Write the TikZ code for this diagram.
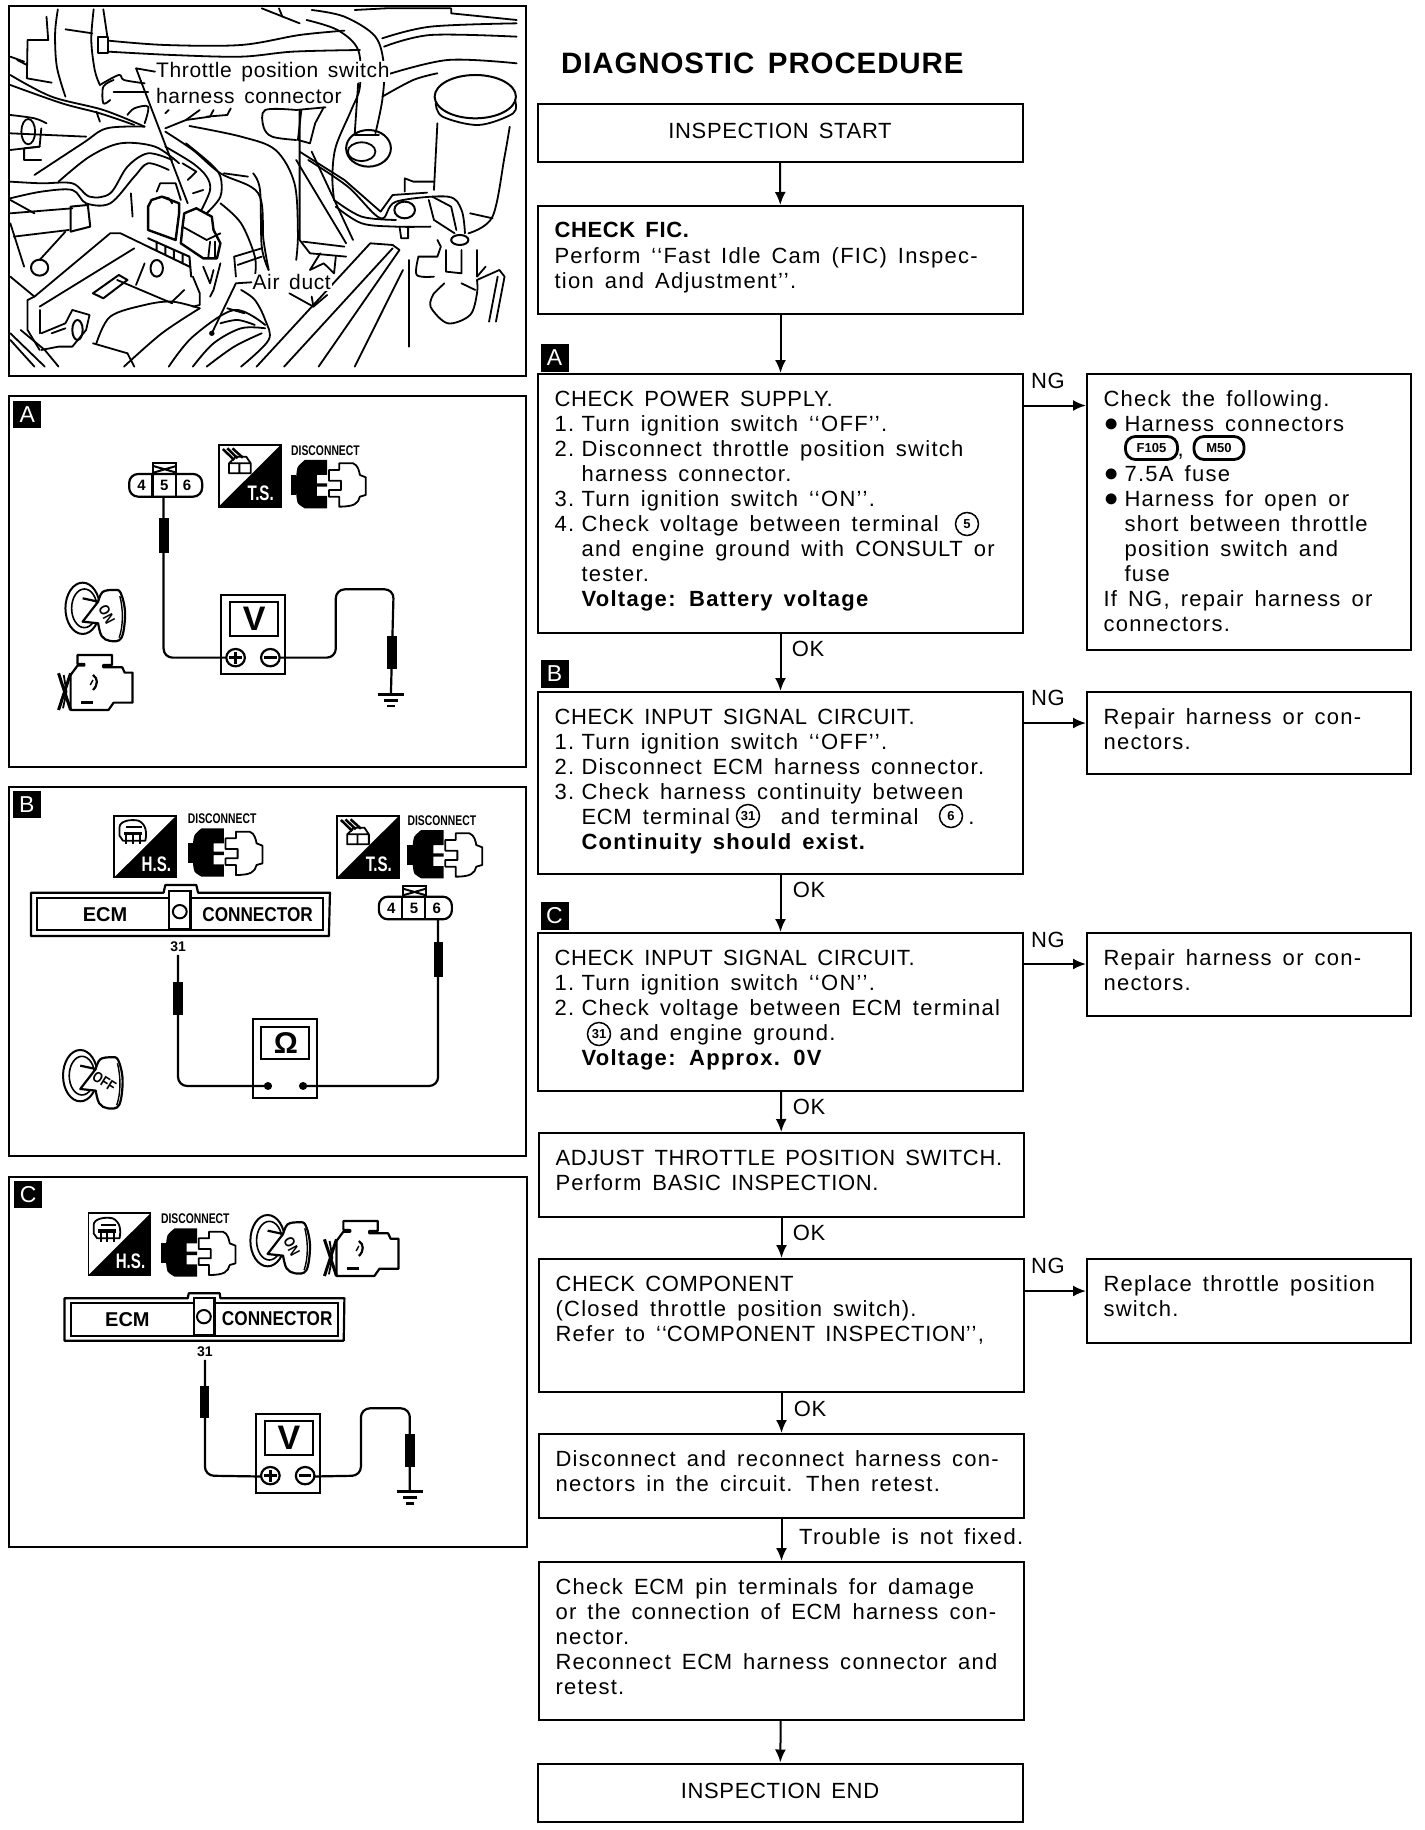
\documentclass[tikz,border=0pt]{standalone}
\usepackage{fontspec}
\setmainfont[LetterSpace=5.8,WordSpace=1.5]{Liberation Sans}
\newfontfamily\capf[LetterSpace=3,WordSpace=1.5]{Liberation Sans}
\newfontfamily\plainf{Liberation Sans}
\usetikzlibrary{arrows.meta,calc}
\newcommand\ar[1]{\draw[art] plot[smooth,tension=.55] coordinates {#1};}
\newcommand\pl[1]{\draw[art] plot coordinates {#1};}
\newcommand\fbx[6]{\node[flowbox] (#1) at (#2,#3) {\parbox[t][#5pt][t]{#4pt}{\fontsize{22}{25}\selectfont\raggedright\leftskip=16.5pt\rightskip=0pt plus 1fil\parindent=0pt\vspace*{14.5pt}\strut #6}};}
\newcommand\num[1]{\makebox[27pt][l]{#1}}
\newcommand\hng{\hspace*{27pt}}
\newcommand\bul{\makebox[21pt][l]{\scalebox{1.15}{●}}}
\newcommand\hb{\hspace*{21pt}}
\newcommand\qo{‘\kern1pt‘}
\newcommand\qc{’\kern1pt’}
\tikzset{
 keyangle/.initial=-62,
 flowbox/.style={draw,line width=2pt,inner sep=0pt,anchor=north west},
 flowend/.style={draw,line width=2pt,inner sep=0pt,minimum width=485pt,minimum height=58pt,font=\capf\fontsize{22}{25}\selectfont},
 conn/.style={line width=2pt,-{Latex[length=13pt,width=11pt]}},
 lab/.style={inner sep=0pt,font=\capf\fontsize{22}{25}\selectfont},
 tag/.style={fill=black,text=white,inner sep=0pt,minimum width=28pt,minimum height=28pt,font=\plainf\fontsize{23}{23}\selectfont},
 circ/.style={draw,circle,line width=1.5pt,inner sep=0pt,minimum size=23pt,font=\plainf\bfseries\fontsize{13}{13}\selectfont},
 hconn/.style={draw,rounded corners=10pt,line width=2.8pt,inner sep=0pt,minimum height=23pt,font=\plainf\bfseries\fontsize{13}{13}\selectfont},
 panel/.style={draw,line width=2pt},
 art/.style={line width=1.8pt,line join=round,line cap=round},
 wire/.style={line width=2.2pt,rounded corners=9pt},
 sm/.style={inner sep=0pt,font=\plainf\bfseries\fontsize{14}{14}\selectfont},
 pics/disc/.style={code={
  \node[sm] (-t) at (100,-28) {\scalebox{.74}[1]{DISCONNECT}};
  \fill (15,45)--(15,105)--(0,105)--(0,45)--cycle;
  \fill plot[smooth,tension=.4] coordinates {(40,0)(20,20)(15,50)(15,100)(20,130)(40,145)} -- (105,145)--(105,108)--(75,108)--(75,80)--(105,80)--(105,70)--(75,70)--(75,45)--(105,45)--(105,0)--cycle;
  \draw[line width=1.8pt,line join=round] (140,10)--(180,10) .. controls (195,15) and (198,35) .. (200,45)--(217,52)--(217,105)--(200,110) .. controls (195,130) and (185,140) .. (140,140)--(140,110)--(110,110)--(110,90)--(145,90)--(145,62)--(110,62)--(110,30)--(140,30)--cycle;
 }},
 pics/tsq/.style={code={
  \draw[line width=1.8pt] (0,0) rectangle (180,185);
  \fill (180,0)--(180,185)--(0,185)--cycle;
  \node[inner sep=0pt,text=white,font=\plainf\bfseries\fontsize{21}{21}\selectfont] (-t) at (122,145) {\scalebox{.72}[1]{#1}};
 }},
 pics/boxgly/.style={code={
  \draw[line width=1.8pt,line join=round] (30,55)--(30,85)--(93,85)--(93,55)--cycle (60,55)--(60,85) (30,55)--(50,35)--(80,35)--(93,55);
  \draw[line width=2.5pt] (12,12)--(45,45) (25,10)--(55,40) (40,10)--(70,38);
 }},
 pics/hsgly/.style={code={
  \draw[line width=1.8pt,line join=round] (15,35) .. controls (15,15) and (50,10) .. (70,15) .. controls (92,25) and (95,50) .. (90,75)--(25,75)--(15,60)--cycle;
  \fill (28,48) rectangle (80,58);
  \draw[line width=2pt] (35,35)--(80,35) (35,58)--(35,85) (55,58)--(55,85) (75,58)--(75,85);
 }},
 pics/keyic/.style={code={
  \draw[line width=2pt] (50,77) ellipse [x radius=50,y radius=77];
  \draw[line width=1.6pt] (55,77) ellipse [x radius=37,y radius=58];
  \draw[line width=2.2pt,line join=round,fill=white] (50,47)--(95,57) plot[smooth,tension=.6] coordinates {(95,57)(108,28)(140,22)(160,30)(173,90)(163,165)(130,175)(105,160)(95,122)} --(50,117)--cycle;
  \draw[line width=1.4pt] (158,40) .. controls (168,80) and (168,130) .. (156,165);
  \node[inner sep=0pt,rotate=\pgfkeysvalueof{/tikz/keyangle},font=\plainf\bfseries\fontsize{15}{15}\selectfont] (-t) at (120,95) {\scalebox{.82}[1]{#1}};
 }},
 pics/engic/.style={code={
  \draw[line width=2.2pt,line join=round] (60,0)--(160,0)--(160,30)--(135,30)--(135,37)--(190,37)--(197,53)--(220,53)--(220,143)--(165,143)--(150,165)--(40,165)--(40,60)--(60,32)--(80,32)--(80,27)--(60,27)--cycle;
  \draw[line width=3pt] (5,55)--(40,165) (40,55)--(5,165) ;
  \draw[line width=1.8pt] (20,60)--(28,110)--(18,160);
  \fill (70,137) rectangle (105,146);
  \draw[line width=2.2pt] (105,60) .. controls (120,70) and (120,90) .. (105,105);
  \draw[line width=1.4pt] (105,75)--(97,90);
 }},
 pics/meter/.style={code={
  \draw[line width=2.2pt,fill=white] (0,0) rectangle (186,237);
  \draw[line width=2.2pt] (26,22) rectangle (166,122);
  \node[inner sep=0pt,font=\plainf\bfseries\fontsize{#1}{#1}\selectfont] (-t) at (96,70) {V};
  \coordinate (-p) at (42,188);
  \coordinate (-m) at (143,188);
 }},
 pics/pmterm/.style={code={
  \draw[line width=2.2pt,fill=white] (42,188) circle [x radius=27,y radius=26];
  \draw[line width=2.2pt,fill=white] (143,188) circle [x radius=27,y radius=26];
  \draw[line width=2.4pt] (24,188)--(60,188) (42,170)--(42,206) (125,188)--(161,188);
 }},
 pics/c456/.style={code={
  \draw[line width=2.2pt] (70,0)--(70,-32)--(137,-32)--(137,0);
  \draw[line width=2pt] (70,-24)--(137,-4) (70,-4)--(137,-24);
  \draw[line width=2.2pt,rounded corners=9pt] (0,0) rectangle (212,68);
  \draw[line width=2.2pt] (68,0)--(68,68) (135,0)--(135,68);
  \node[sm,font=\plainf\bfseries\fontsize{15}{15}\selectfont] (-a) at (36,34) {4};
  \node[sm,font=\plainf\bfseries\fontsize{15}{15}\selectfont] (-b) at (102,34) {5};
  \node[sm,font=\plainf\bfseries\fontsize{15}{15}\selectfont] (-c) at (168,34) {6};
  \coordinate (-t5) at (100,68);
  \coordinate (-t6) at (172,68);
 }},
 pics/gnd/.style={code={
  \coordinate (-t) at (0,0);
  \draw[line width=2.4pt] (-38,0)--(38,0) (-20,18)--(20,18) (-11,35)--(11,35);
 }},
}
\begin{document}
\begin{tikzpicture}[x=1pt,y=-1pt]
\useasboundingbox (0,0) rectangle (1424,1830);
\fill[white] (0,0) rectangle (1424,1830);

% ---- flow chart
\node[inner sep=0pt,anchor=west,font=\capf\fontsize{29.5}{32}\selectfont\bfseries] (title) at (561,63) {DIAGNOSTIC PROCEDURE};
\node[flowend] (start) at (780,133) {\raisebox{0pt}[15.4pt][4.4pt]{INSPECTION START}};
\fbx{fic}{537}{205}{485}{108}{\textbf{{\capf CHECK FIC.}}\\Perform \qo Fast Idle Cam (FIC) Inspec-\\tion and Adjustment\qc.}
\node[tag] (ta) at (554.5,357.5) {A};
\fbx{a}{537}{373}{485}{259}{{\capf CHECK POWER SUPPLY.}\\\num{1.}Turn ignition switch \qo OFF\qc.\\\num{2.}Disconnect throttle position switch\\\hng harness connector.\\\num{3.}Turn ignition switch \qo ON\qc.\\\num{4.}Check voltage between terminal\\\hng and engine ground with {\capf CONSULT} or\\\hng tester.\\\hng\textbf{Voltage: Battery voltage}}
\node[circ] (c5) at (967,524) {5};
\fbx{n1}{1086}{373}{324}{276}{Check the following.\\\bul Harness connectors\\\hb\hspace*{53pt},\\\bul 7.5A fuse\\\bul Harness for open or\\\hb short between throttle\\\hb position switch and\\\hb fuse\\If NG, repair harness or\\connectors.}
\node[hconn,minimum width=52pt] (f105) at (1151.5,448) {F105};
\node[hconn,minimum width=50pt] (m50) at (1219,448) {M50};
\node[tag] (tb) at (554.5,674) {B};
\fbx{b}{537}{691}{485}{182}{{\capf CHECK INPUT SIGNAL CIRCUIT.}\\\num{1.}Turn ignition switch \qo OFF\qc.\\\num{2.}Disconnect {\capf ECM} harness connector.\\\num{3.}Check harness continuity between\\\hng{\capf ECM} terminal\hspace*{51pt}and terminal\hspace*{50pt}.\\\hng\textbf{Continuity should exist.}}
\node[circ] (c31a) at (748,816) {31};
\node[circ] (c6) at (951,816) {6};
\fbx{n2}{1086}{691}{324}{82}{Repair harness or con-\\nectors.}
\node[tag] (tc) at (554.5,916) {C};
\fbx{c}{537}{932}{485}{158}{{\capf CHECK INPUT SIGNAL CIRCUIT.}\\\num{1.}Turn ignition switch \qo ON\qc.\\\num{2.}Check voltage between {\capf ECM} terminal\\\hng\hspace*{38pt}and engine ground.\\\hng\textbf{Voltage: Approx. 0V}}
\node[circ] (c31b) at (599,1034) {31};
\fbx{n3}{1086}{932}{324}{83}{Repair harness or con-\\nectors.}
\fbx{adj}{538}{1132}{485}{84}{{\capf ADJUST THROTTLE POSITION SWITCH.}\\Perform {\capf BASIC INSPECTION.}}
\fbx{comp}{538}{1258}{485}{133}{{\capf CHECK COMPONENT}\\(Closed throttle position switch).\\Refer to \qo{\capf COMPONENT INSPECTION}\qc,}
\fbx{n4}{1086}{1258}{324}{84}{Replace throttle position\\switch.}
\fbx{rec}{538}{1433}{485}{84}{Disconnect and reconnect harness con-\\nectors in the circuit. Then retest.}
\fbx{ecm}{538}{1561}{485}{158}{Check {\capf ECM} pin terminals for damage\\or the connection of {\capf ECM} harness con-\\nector.\\Reconnect {\capf ECM} harness connector and\\retest.}
\node[flowend] (stop) at (780,1792.5) {\raisebox{0pt}[15.4pt][4.4pt]{INSPECTION END}};

\draw[conn] (start) -- (fic);
\draw[conn] (fic) -- (a);
\draw[conn] (a) -- (b);
\draw[conn] (b) -- (c);
\draw[conn] (c) -- (adj);
\draw[conn] (adj) -- (comp);
\draw[conn] (comp) -- (rec);
\draw[conn] (rec) -- (ecm);
\draw[conn] (ecm) -- (stop);
\draw[conn] ([yshift=-32.5pt]a.north east) -- ([yshift=-32.5pt]n1.north west);
\draw[conn] ([yshift=-32pt]b.north east) -- ([yshift=-32pt]n2.north west);
\draw[conn] ([yshift=-32pt]c.north east) -- ([yshift=-32pt]n3.north west);
\draw[conn] ([yshift=-33pt]comp.north east) -- ([yshift=-33pt]n4.north west);
\node[lab] (ng1) at (1048,381) {NG};
\node[lab] (ng2) at (1048,698) {NG};
\node[lab] (ng3) at (1048,940) {NG};
\node[lab] (ng4) at (1048,1266) {NG};
\node[lab] (ok1) at (808,649) {OK};
\node[lab] (ok2) at (809,890) {OK};
\node[lab] (ok3) at (809,1107) {OK};
\node[lab] (ok4) at (809,1232.5) {OK};
\node[lab] (ok5) at (810,1409) {OK};
\node[inner sep=0pt,anchor=west,font=\fontsize{22}{25}\selectfont] (tr) at (799,1537) {Trouble is not fixed.};

% ---- engine bay picture
\begin{scope}[shift={(0,0)},x=0.3444pt,y=-0.3333pt]
\begin{scope}
\clip (25,18) rectangle (1528,1128);
\ar{(168,28)(160,100)(165,200)(190,290)}
\ar{(272,28)(265,120)(275,210)(290,255)}
\pl{(135,50)(140,120)(80,120)(78,235)(150,248)}
\pl{(190,88)(268,100)}
\pl{(300,28)(312,112)}
\draw[art,line width=2pt] (285,110) rectangle (315,160);
\ar{(315,122)(480,135)(700,135)(870,105)(1000,92)}
\ar{(315,155)(500,165)(700,170)(850,155)(1045,150)}
\pl{(760,25)(870,70)}
\pl{(810,25)(820,50)}
\pl{(1030,30)(1120,25)(1310,25)(1310,40)(1500,60)}
\pl{(30,170)(70,185)}
\pl{(50,180)(78,195)}
\ar{(30,225)(150,290)(300,330)(420,380)}
\ar{(30,255)(180,310)(290,340)(390,375)}
\ar{(290,255)(345,225)(360,240)(420,250)}
\ar{(330,240)(300,260)(300,310)(320,300)}
\pl{(330,275)(430,275)}
\pl{(280,335)(290,365)}
\ar{(370,345)(390,325)(430,320)(420,370)}
\pl{(480,340)(490,330)}
\pl{(480,385)(540,360)(580,330)}
\pl{(540,360)(610,350)(620,330)}
\pl{(600,350)(660,345)(670,325)}
\ar{(550,378)(700,410)(800,450)(855,550)(865,700)(860,780)}
\ar{(480,395)(560,450)(640,520)(750,580)(765,720)(780,810)}
\ar{(30,345)(100,355)(135,370)}
\draw[art] (82,395) ellipse [x radius=20,y radius=38];
\pl{(120,385)(115,440)(70,445)(70,480)(120,480)}
\pl{(30,400)(250,410)}
\pl{(30,450)(115,440)}
\ar{(100,525)(240,430)(310,385)(420,380)}
\ar{(170,545)(260,470)(350,430)(450,440)(520,490)}
\ar{(30,545)(120,550)(210,550)(260,590)(320,580)(370,500)(430,460)(500,480)}
\ar{(30,595)(120,575)(210,570)(250,610)(320,610)(390,530)(430,490)(490,510)}
\pl{(30,640)(210,625)}
\pl{(30,600)(100,640)}
\draw[art,line width=2pt] (205,620)--(255,615)--(262,680)--(205,695)--cycle;
\pl{(30,670)(70,800)}
\pl{(40,710)(200,690)}
\draw[art,line width=2pt] (115,803) circle [x radius=25,y radius=24];
\pl{(115,780)(190,695)}
\pl{(30,830)(100,890)}
\pl{(80,900)(100,890)(320,700)(350,700)(430,740)}
\pl{(80,900)(80,990)(115,1050)}
\pl{(115,930)(115,1000)}
\pl{(115,920)(390,745)}
\draw[art,line width=2pt] (270,880)--(345,825)--(370,840)--(300,895)--cycle;
\pl{(380,580)(385,650)}
\pl{(340,840)(500,910)}
\draw[art,line width=2.4pt] (440,600)--(470,590)--(520,610)--(520,640)--(510,720)--(430,690)--(430,620)--cycle;
\pl{(455,575)(465,550)(510,550)(525,600)}
\pl{(470,590)(490,595)(500,610)}
\draw[art,line width=2.4pt] (535,640)--(570,625)--(615,650)--(620,690)--(640,730)--(630,775)--(590,775)--(525,730)--(530,680)--cycle;
\pl{(530,680)(600,720)(640,700)}
\pl{(610,725)(605,770)}
\pl{(625,725)(625,775)}
\draw[art,line width=2pt] (430,715)--(550,770)--(555,830) (430,740)--(550,800) (455,725)--(455,750) (480,740)--(480,762) (505,750)--(505,775) (530,762)--(530,790);
\ar{(600,640)(640,590)(640,530)(610,490)(540,430)}
\ar{(585,630)(610,570)(600,530)(560,490)(480,440)}
\pl{(560,580)(590,570)}
\pl{(530,490)(570,515)(545,540)}
\ar{(640,610)(700,670)(740,770)(740,830)}
\pl{(680,770)(760,745)}
\pl{(690,795)(760,770)}
\pl{(680,770)(685,830)}
\ar{(735,520)(755,570)(760,740)(780,810)}
\pl{(650,520)(720,530)}
\draw[art,line width=2pt] (455,805) ellipse [x radius=18,y radius=25];
\pl{(560,830)(580,880)(580,915)(560,920)}
\pl{(590,800)(610,850)(620,810)}
\pl{(640,790)(620,870)(610,890)}
\ar{(280,1030)(320,950)(420,915)(500,905)(580,925)}
\pl{(60,990)(130,1050)(170,1100)}
\pl{(30,1000)(130,1100)}
\pl{(30,1020)(100,1100)}
\pl{(120,1000)(190,970)(210,930)(260,945)(250,990)(210,1040)(170,1040)(120,1050)}
\draw[art,line width=2pt] (225,990) ellipse [x radius=15,y radius=30];
\pl{(150,1000)(190,985)}
\pl{(270,1030)(370,1060)(390,1100)}
\ar{(360,1100)(470,1000)(580,925)}
\ar{(490,1100)(560,1010)(680,930)(770,975)}
\ar{(560,1100)(620,1030)(700,985)(770,985)}
\ar{(600,1100)(680,1040)(760,1000)}
\ar{(700,1100)(780,1020)(770,960)(740,900)(700,870)}
\ar{(640,970)(690,960)(740,975)}
\pl{(660,925)(710,940)}
\pl{(500,905)(535,870)}
\pl{(395,855)(420,790)}
\pl{(745,1100)(1075,730)(1140,735)(1160,750)(925,1100)}
\pl{(825,1100)(1140,745)}
\pl{(1030,1100)(1170,810)}
\pl{(1188,780)(1188,1040)}
\pl{(840,880)(910,920)(950,885)}
\pl{(905,890)(910,920)}
\pl{(870,330)(870,720)(900,760)(1005,770)}
\pl{(860,330)(945,322)}
\pl{(875,330)(865,420)(900,430)(915,370)(940,322)}
\ar{(860,330)(770,330)(765,380)(790,410)(860,420)}
\pl{(905,455)(1025,720)}
\pl{(860,480)(1005,730)}
\pl{(880,725)(1000,740)}
\pl{(930,760)(900,810)(940,790)(970,820)(975,770)}
\ar{(890,60)(980,90)(1040,150)(1045,260)(1020,330)(975,440)(965,530)(970,600)}
\ar{(905,30)(1000,50)(1090,110)(1115,200)(1110,300)(1090,400)}
\pl{(1040,250)(1030,400)}
\draw[art,line width=2pt] (1070,445) ellipse [x radius=65,y radius=55];
\draw[art] (1050,455) ellipse [x radius=40,y radius=28];
\pl{(1030,405)(1100,405)}
\ar{(1110,115)(1250,80)(1500,70)}
\ar{(1115,140)(1250,105)(1500,110)}
\ar{(1120,225)(1300,180)(1500,190)}
\ar{(1110,290)(1200,240)(1270,220)}
\draw[art,line width=2pt] (1380,290) ellipse [x radius=118,y radius=65];
\ar{(1265,310)(1285,350)(1390,375)(1490,340)(1495,300)}
\pl{(1270,370)(1260,570)}
\ar{(1480,380)(1465,470)(1430,650)(1360,700)}
\pl{(1365,640)(1430,655)}
\pl{(870,455)(1000,540)(1105,635)(1140,585)(1240,578)}
\ar{(895,480)(1010,560)(1105,655)(1150,605)(1300,590)(1340,630)(1350,700)}
\ar{(970,600)(1050,650)(1150,660)}
\ar{(975,620)(1050,670)(1150,680)(1250,680)}
\pl{(1175,575)(1175,535)(1200,545)(1260,545)}
\draw[art,line width=2pt] (1175,630) ellipse [x radius=30,y radius=25];
\pl{(1160,680)(1165,715)(1185,715)(1185,680)}
\pl{(1245,600)(1260,660)(1320,700)}
\pl{(1255,590)(1310,620)(1325,690)}
\draw[art,line width=2pt] (1335,720) ellipse [x radius=25,y radius=15];
\ar{(1215,770)(1210,825)(1260,830)}
\ar{(1260,880)(1250,920)(1300,970)(1365,945)(1385,880)(1385,840)}
\pl{(1215,770)(1270,770)(1280,740)(1270,720)}
\pl{(1385,840)(1450,810)(1465,830)(1440,965)}
\pl{(1295,750)(1295,815)(1340,820)(1340,750)}
\pl{(1385,750)(1385,830)(1410,800)}
\pl{(1420,965)(1445,830)}
\pl{(1290,850)(1260,880)}
\pl{(1340,850)(1380,870)}
\end{scope}
\coordinate (dot) at (615,1000);
\fill (dot) circle [radius=8];
\node[inner sep=1pt,fill=white,anchor=west,font=\capf\fontsize{21}{24}\selectfont] (tp1) at (450,215) {Throttle position switch};
\node[inner sep=1pt,fill=white,anchor=west,font=\capf\fontsize{21}{24}\selectfont] (tp2) at (450,288) {harness connector};
\node[inner sep=1pt,fill=white,anchor=west,font=\capf\fontsize{21}{24}\selectfont] (tp3) at (730,847) {Air duct};
\coordinate (leadA) at (545,610);
\draw[art] (tp1.west) -- (395,205) -- (leadA);
\draw[art] (tp3.west) -- (685,850) -- (dot);
\draw[panel] (25,18) rectangle (1528,1128);
\end{scope}

% ---- panel A
\begin{scope}[shift={(0,390)},x=0.3444pt,y=-0.3333pt]
\draw[panel] (25,18) rectangle (1528,1130);
\node[tag,minimum width=28pt,minimum height=27pt] (pa) at (79,74) {A};
\pic (kA) at (190,578) {keyic=ON};
\pic (eA) at (165,795) {engic};
\pic (tsA) at (635,165) {tsq=T.S.};
\pic at (635,165) {boxgly};
\pic (dA) at (845,210) {disc};
\pic (cA) at (375,252) {c456};
\pic (mA) at (642,615) {meter=34};
\pic (gA) at (1135,913) {gnd};
\draw[wire] (cA-t5) -- (475,803) -- (mA-p);
\draw[wire] (mA-m) -- (975,803) -- (975,598) -- (1143,598) -- (gA-t);
\fill (462,385) rectangle (490,488);
\fill (1123,738) rectangle (1152,838);
\pic at (642,615) {pmterm};
\end{scope}

% ---- panel B
\begin{scope}[shift={(0,780)},x=0.3444pt,y=-0.3333pt,keyangle=-32]
\draw[panel] (25,20) rectangle (1528,1128);
\node[tag,minimum width=28pt,minimum height=27pt] (pb) at (78,74) {B};
\pic (tsB) at (332,107) {tsq=H.S.};
\pic at (332,107) {hsgly};
\pic (dB) at (545,145) {disc};
\pic (tsC) at (978,108) {tsq=T.S.};
\pic at (978,108) {boxgly};
\pic (dC) at (1183,150) {disc};
\draw[line width=2.2pt,line join=round] (90,338)--(475,338)--(480,315)--(570,315)--(575,338)--(958,338)--(955,468)--(90,468)--cycle;
\draw[line width=2pt] (108,355) rectangle (938,450);
\draw[line width=2.2pt,fill=white] (490,332) rectangle (553,448);
\draw[line width=2pt] (522,395) circle [radius=20];
\node[inner sep=0pt,font=\plainf\bfseries\fontsize{20}{20}\selectfont] (ecmB) at (305,405) {ECM};
\node[inner sep=0pt,font=\plainf\bfseries\fontsize{20}{20}\selectfont] (conB) at (748,405) {\scalebox{.86}[1]{CONNECTOR}};
\node[sm] (n31B) at (517,500) {31};
\pic (cB) at (1100,350) {c456};
\pic (kB) at (183,810) {keyic=OFF};
\begin{scope}[shift={(735,718)}]
\draw[line width=2.2pt,fill=white] (0,0) rectangle (186,237);
\draw[line width=2.2pt] (23,22) rectangle (163,120);
\node[inner sep=0pt,font=\plainf\bfseries\fontsize{30}{30}\selectfont] (omg) at (95,72) {Ω};
\coordinate (mBa) at (43,200);
\coordinate (mBb) at (145,200);
\end{scope}
\coordinate (w31) at (517,525);
\draw[wire] (w31) -- (517,918) -- (mBa);
\draw[wire] (cB-t6) -- (1272,918) -- (mBb);
\fill (503,605) rectangle (531,705);
\fill (1259,487) rectangle (1287,590);
\fill (mBa) circle [radius=12];
\fill (mBb) circle [radius=12];
\end{scope}

% ---- panel C
\begin{scope}[shift={(0,1170)},x=0.3444pt,y=-0.3333pt]
\draw[panel] (27,20) rectangle (1530,1131);
\node[tag,minimum width=28pt,minimum height=27pt] (pc) at (82,74) {C};
\pic (tsD) at (257,130) {tsq=H.S.};
\pic at (257,130) {hsgly};
\pic (dD) at (467,175) {disc};
\pic (kC) at (727,135) {keyic=ON};
\pic (eC) at (937,153) {engic};
\draw[line width=2.2pt,line join=round] (187,385)--(545,385)--(548,370)--(638,370)--(640,385)--(1000,385)--(998,512)--(187,512)--cycle;
\draw[line width=2pt] (205,400) rectangle (982,497);
\draw[line width=2.2pt,fill=white] (563,384) rectangle (623,495);
\draw[line width=2pt] (592,440) circle [radius=20];
\node[inner sep=0pt,font=\plainf\bfseries\fontsize{20}{20}\selectfont] (ecmC) at (370,450) {ECM};
\node[inner sep=0pt,font=\plainf\bfseries\fontsize{20}{20}\selectfont] (conC) at (805,447) {\scalebox{.86}[1]{CONNECTOR}};
\node[sm] (n31C) at (595,545) {31};
\pic (mC) at (743,732) {meter=34};
\pic (gC) at (1190,965) {gnd};
\coordinate (wc31) at (595,570);
\draw[wire] (wc31) -- (595,917) -- (mC-p);
\draw[wire] (mC-m) -- (1048,917) -- (1048,715) -- (1190,715) -- (gC-t);
\fill (582,648) rectangle (608,745);
\fill (1177,792) rectangle (1204,890);
\pic at (743,729) {pmterm};
\end{scope}
\end{tikzpicture}
\end{document}
